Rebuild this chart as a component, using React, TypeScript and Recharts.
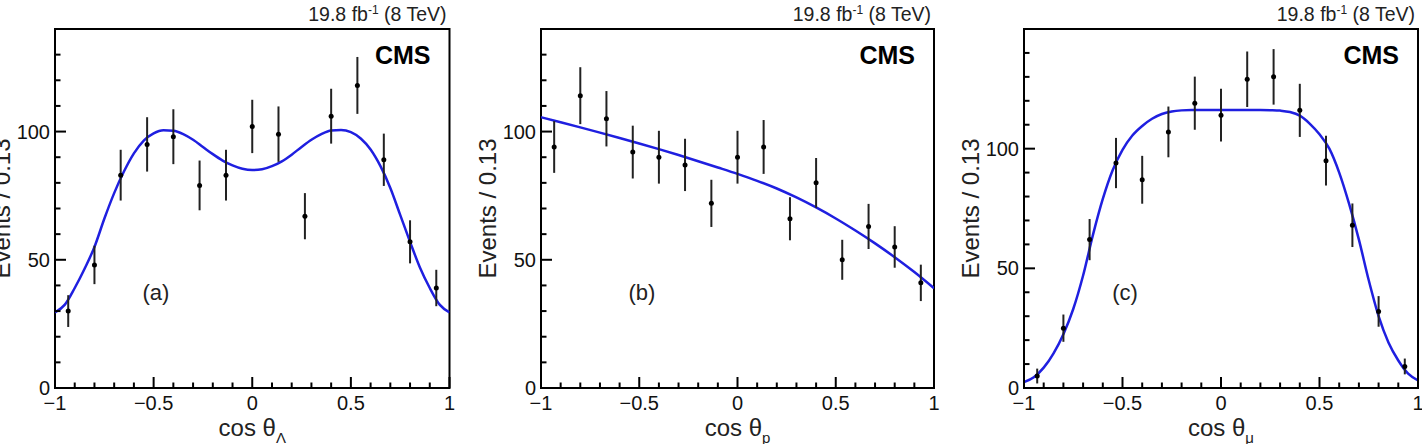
import React from 'react';
import { ComposedChart, Line, Scatter, ErrorBar, XAxis, YAxis, ReferenceArea } from 'recharts';

// bin centres, 15 bins of width 0.13 over [-1, 1]
const binCenters = [-0.933, -0.8, -0.667, -0.533, -0.4, -0.267, -0.133, 0, 0.133, 0.267, 0.4, 0.533, 0.667, 0.8, 0.933];

const countsA = [30, 48, 83, 95, 98, 79, 83, 102, 99, 67, 106, 118, 89, 57, 39];
const errorsA = [6.2, 7.5, 9.9, 10.6, 10.7, 9.7, 9.9, 10.4, 10.8, 9.0, 10.7, 11.1, 10.2, 8.4, 7.1];

const countsB = [94, 114, 105, 92, 90, 87, 72, 90, 94, 66, 80, 50, 63, 55, 41];
const errorsB = [10.1, 11.1, 10.8, 10.3, 10.3, 10.2, 9.2, 10.3, 10.5, 8.4, 9.7, 7.8, 8.8, 8.1, 7.1];

const countsC = [5, 25, 62, 94, 87, 107, 119, 114, 129, 130, 116, 95, 68, 32, 9];
const errorsC = [3.1, 5.7, 8.6, 10.5, 10.0, 10.6, 11.1, 11.0, 11.6, 11.6, 11.1, 10.4, 9.1, 6.4, 3.3];

// fit curves
const curveX = [
  -1, -0.95, -0.9, -0.85, -0.8, -0.75, -0.7, -0.65, -0.6, -0.55, -0.5, -0.45, -0.4, -0.35, -0.3, -0.25, -0.2, -0.15, -0.1, -0.05,
  0, 0.05, 0.1, 0.15, 0.2, 0.25, 0.3, 0.35, 0.4, 0.45, 0.5, 0.55, 0.6, 0.65, 0.7, 0.75, 0.8, 0.85, 0.9, 0.95, 1,
];
const fitA = [
  29.5, 32.5, 39, 46.5, 55, 66, 76, 84.5, 91.5, 96.5, 99.3, 100.5, 100.3, 99, 96.8, 94, 91.2, 88.7, 86.8, 85.5,
  85, 85.3, 86.5, 88.4, 91, 94, 96.8, 99, 100.4, 100.6, 99.8, 97.3, 93, 86.5, 78, 67.5, 57, 47, 39, 32.5, 29.5,
];
const fitC = [
  2.5, 4.5, 8.5, 14.5, 22.5, 33, 47, 64, 79, 91, 99.5, 105.5, 109.5, 112.5, 114.5, 115.5, 116, 116.2, 116.2, 116.2,
  116.2, 116.2, 116.2, 116.2, 116.2, 116.1, 115.9, 115.3, 113.8, 110.5, 106, 100, 90, 77, 62, 45, 30, 19, 11.5, 6, 3.2,
];
const curveXB = [-1, -0.9, -0.8, -0.7, -0.6, -0.5, -0.4, -0.3, -0.2, -0.1, 0, 0.1, 0.2, 0.3, 0.4, 0.5, 0.6, 0.7, 0.8, 0.9, 1];
const fitB = [105.6, 103.65, 101.65, 99.6, 97.5, 95.35, 93.15, 90.85, 88.45, 86, 83.5, 80.8, 77.8, 74.3, 70.4, 66.1, 61.4, 56.4, 51, 45.2, 38.9];

const xTicks = [-1, -0.9, -0.8, -0.7, -0.6, -0.5, -0.4, -0.3, -0.2, -0.1, 0, 0.1, 0.2, 0.3, 0.4, 0.5, 0.6, 0.7, 0.8, 0.9, 1];
const yTicksAB = [0, 10, 20, 30, 40, 50, 60, 70, 80, 90, 100, 110, 120, 130];
const yTicksC = [0, 10, 20, 30, 40, 50, 60, 70, 80, 90, 100, 110, 120, 130, 140];

const FONT = '"Liberation Sans", Arial, Helvetica, sans-serif';
const CURVE_COLOR = '#1f1fe0';

const toPoints = (counts: number[], errs: number[]) =>
  binCenters.map((x, i) => ({ x, y: counts[i], err: errs[i] }));
const toCurve = (xs: number[], ys: number[]) => xs.map((x, i) => ({ x, y: ys[i] }));

const fmtX = (v: number) => (v < 0 ? '\u2212' + Math.abs(v) : String(v));

const XTick = (props: any) => {
  const { x, y, payload } = props;
  const v = payload.value;
  const major = Math.abs(v * 2 - Math.round(v * 2)) < 1e-6;
  return (
    <g>
      <line x1={x} x2={x} y1={y} y2={y - (major ? 11 : 5.5)} stroke="#000" strokeWidth={2} />
      {major && (
        <text x={x} y={y + 22} textAnchor="middle" fontSize={20} fontFamily={FONT} fill="#111">
          {fmtX(v)}
        </text>
      )}
    </g>
  );
};

const YTick = (props: any) => {
  const { x, y, payload } = props;
  const v = payload.value;
  const major = v % 50 === 0;
  return (
    <g>
      <line x1={x} x2={x + (major ? 11 : 5.5)} y1={y} y2={y} stroke="#000" strokeWidth={2} />
      {major && (
        <text x={x - 5} y={y + 7} textAnchor="end" fontSize={20} fontFamily={FONT} fill="#111">
          {v}
        </text>
      )}
    </g>
  );
};

const Dot = (props: any) => <circle cx={props.cx} cy={props.cy} r={2.5} fill="#000" />;

interface PanelProps {
  left: number;
  frameLeft: number;
  frameRight: number;
  yMax: number;
  yTicks: number[];
  points: { x: number; y: number; err: number }[];
  curve: { x: number; y: number }[];
  tag: string;
  sub: string;
}

function Panel({ left, frameLeft, frameRight, yMax, yTicks, points, curve, tag, sub }: PanelProps) {
  const W = 474;
  const H = 444;
  const mid = (frameLeft + frameRight) / 2;
  return (
    <div style={{ position: 'absolute', left, top: 0, width: W, height: H }}>
      <ComposedChart width={W} height={H} margin={{ top: 29, right: W - frameRight, bottom: 0, left: 0 }}>
        <XAxis
          type="number"
          dataKey="x"
          domain={[-1, 1]}
          ticks={xTicks}
          interval={0}
          tick={(p: any) => <XTick {...p} />}
          tickLine={false}
          axisLine={false}
          tickSize={0}
          tickMargin={0}
          height={56}
          allowDataOverflow
        />
        <YAxis
          type="number"
          dataKey="y"
          domain={[0, yMax]}
          ticks={yTicks}
          interval={0}
          tick={(p: any) => <YTick {...p} />}
          tickLine={false}
          axisLine={false}
          tickSize={0}
          tickMargin={0}
          width={frameLeft}
          allowDataOverflow
        />
        <ReferenceArea x1={-1} x2={1} y1={0} y2={yMax} fill="none" stroke="#000" strokeWidth={2} ifOverflow="visible" />
        <Line
          data={curve}
          dataKey="y"
          type="monotone"
          stroke={CURVE_COLOR}
          strokeWidth={2.5}
          dot={false}
          isAnimationActive={false}
        />
        <Scatter data={points} dataKey="y" shape={Dot} isAnimationActive={false}>
          <ErrorBar dataKey="err" direction="y" width={0} stroke="#222" strokeWidth={2} isAnimationActive={false} />
        </Scatter>
      </ComposedChart>
      <svg
        width={W}
        height={H}
        style={{ position: 'absolute', left: 0, top: 0, pointerEvents: 'none', overflow: 'hidden' }}
        fontFamily={FONT}
      >
        <text x={frameRight - 3} y={21} textAnchor="end" fontSize={19.5} fill="#222">
          19.8 fb<tspan dy={-7} fontSize={12}>-1</tspan>
          <tspan dy={7}> (8 TeV)</tspan>
        </text>
        <text x={frameRight - 19} y={64} textAnchor="end" fontSize={25} fontWeight="bold" fill="#000">
          CMS
        </text>
        <text x={frameLeft + 101} y={300} textAnchor="middle" fontSize={22} fill="#222">
          {tag}
        </text>
        <text x={mid} y={436} textAnchor="middle" fontSize={24} fill="#222">
          cos θ<tspan dy={7} fontSize={15}>{sub}</tspan>
        </text>
        <text
          x={frameLeft - 45}
          y={208.5}
          transform={`rotate(-90 ${frameLeft - 45} 208.5)`}
          textAnchor="middle"
          fontSize={24}
          fill="#222"
        >
          Events / 0.13
        </text>
      </svg>
    </div>
  );
}

export default function App() {
  return (
    <div style={{ position: 'absolute', left: 0, top: 0, width: 1422, height: 444, background: '#fff', overflow: 'hidden' }}>
      <Panel
        left={0}
        frameLeft={55}
        frameRight={449.5}
        yMax={140}
        yTicks={yTicksAB}
        points={toPoints(countsA, errorsA)}
        curve={toCurve(curveX, fitA)}
        tag="(a)"
        sub="Λ"
      />
      <Panel
        left={474}
        frameLeft={67}
        frameRight={460}
        yMax={140}
        yTicks={yTicksAB}
        points={toPoints(countsB, errorsB)}
        curve={toCurve(curveXB, fitB)}
        tag="(b)"
        sub="p"
      />
      <Panel
        left={948}
        frameLeft={76}
        frameRight={470}
        yMax={150}
        yTicks={yTicksC}
        points={toPoints(countsC, errorsC)}
        curve={toCurve(curveX, fitC)}
        tag="(c)"
        sub="μ"
      />
    </div>
  );
}
